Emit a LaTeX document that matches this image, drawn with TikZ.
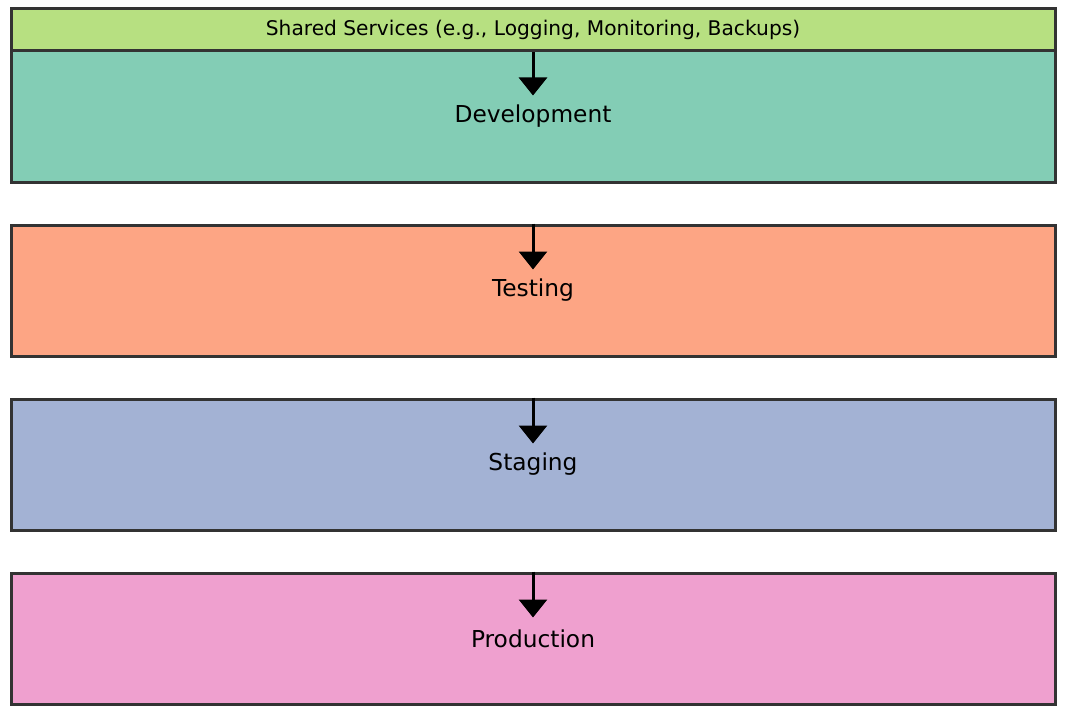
\documentclass[tikz,border=0pt]{standalone}
\usepackage{fontspec}
\setmainfont{DejaVu Sans}
\usetikzlibrary{arrows.meta}
\definecolor{cshared}{HTML}{B7E081}
\definecolor{cdev}{HTML}{83CDB5}
\definecolor{ctest}{HTML}{FDA584}
\definecolor{cstage}{HTML}{A3B2D4}
\definecolor{cprod}{HTML}{EFA0CF}
\definecolor{cborder}{HTML}{333333}
\begin{document}
\begin{tikzpicture}[x=1pt,y=-1pt,
  envbox/.style={draw=cborder, line width=3pt, minimum width=1044pt, minimum height=131pt, inner sep=0pt, font=\fontsize{23.3}{27}\selectfont},
  sharedbox/.style={draw=cborder, line width=3pt, fill=cshared, minimum width=1044pt, minimum height=42pt, inner sep=0pt, font=\fontsize{20.2}{24}\selectfont},
  flow/.style={line width=3pt, -{Triangle[width=28pt,length=18pt]}}]
\useasboundingbox (0,0) rectangle (1066,717);
\node[envbox, fill=cdev] (dev) at (533,116.5) {\raisebox{-1pt}{Development}};
\node[envbox, fill=ctest] (test) at (533,290.5) {\raisebox{-1pt}{Testing}};
\node[envbox, fill=cstage] (stage) at (533,464.5) {\raisebox{-1pt}{Staging}};
\node[envbox, fill=cprod] (prod) at (533,638.5) {\raisebox{-1pt}{Production}};
\node[sharedbox] (shared) at (533,30) {Shared Services (e.g., Logging, Monitoring, Backups)};
\coordinate (devend) at ([yshift=-46pt]dev.north);
\coordinate (testend) at ([yshift=-46pt]test.north);
\coordinate (stageend) at ([yshift=-46pt]stage.north);
\coordinate (prodend) at ([yshift=-46pt]prod.north);
\draw[flow] (shared.south) -- (devend);
\draw[flow] (test.north) -- (testend);
\draw[flow] (stage.north) -- (stageend);
\draw[flow] (prod.north) -- (prodend);
\end{tikzpicture}
\end{document}
